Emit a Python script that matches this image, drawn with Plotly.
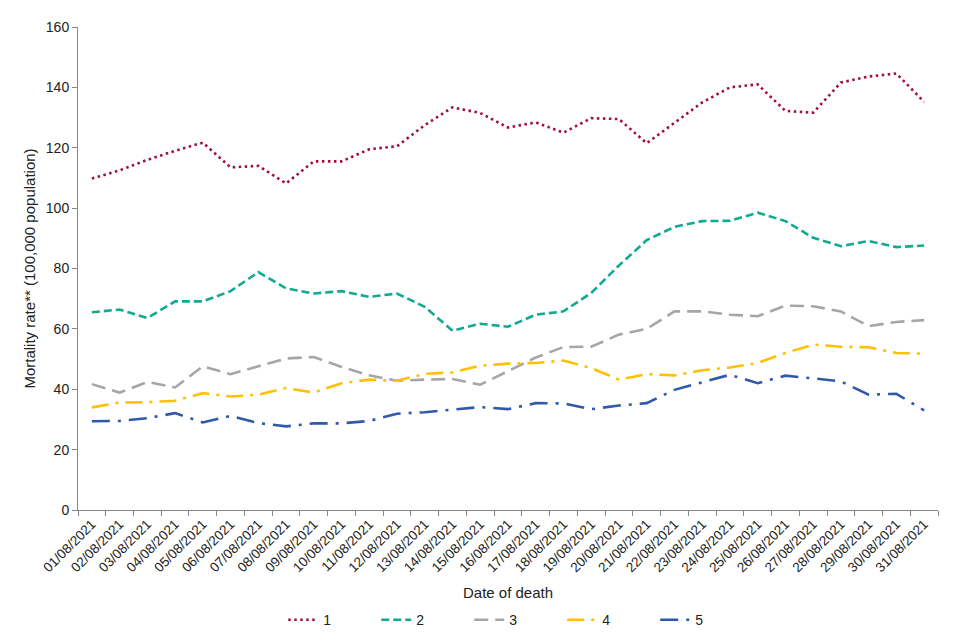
import plotly.graph_objects as go

# Daily mortality rate by group, August 2021
dates = [f"{d:02d}/08/2021" for d in range(1, 32)]

group_1 = [109.8, 112.5, 116.0, 119.0, 121.7, 113.5, 114.0, 108.2, 115.5, 115.5,
           119.5, 120.5, 127.5, 133.4, 131.5, 126.7, 128.4, 125.0, 129.8, 129.5,
           121.5, 128.4, 135.0, 140.0, 141.0, 132.2, 131.6, 141.6, 143.6, 144.6, 135.2]
group_2 = [65.5, 66.4, 63.6, 69.1, 69.1, 72.5, 78.8, 73.4, 71.7, 72.5,
           70.6, 71.7, 67.3, 59.4, 61.7, 60.7, 64.7, 65.8, 71.9, 81.0,
           89.4, 93.8, 95.7, 95.8, 98.5, 95.7, 90.2, 87.4, 89.1, 87.1, 87.6]
group_3 = [41.7, 38.9, 42.4, 40.6, 47.6, 45.0, 47.6, 50.2, 50.7, 47.4,
           44.6, 42.8, 43.2, 43.4, 41.5, 46.0, 50.5, 54.0, 54.1, 58.1,
           60.0, 65.8, 65.8, 64.7, 64.2, 67.7, 67.5, 65.8, 60.9, 62.3, 62.9]
group_4 = [34.0, 35.6, 35.7, 36.2, 38.7, 37.6, 38.2, 40.4, 38.9, 42.0,
           43.2, 42.8, 45.1, 45.6, 47.8, 48.5, 48.7, 49.5, 47.0, 43.2,
           45.0, 44.6, 46.3, 47.2, 48.7, 52.0, 54.8, 54.1, 53.9, 52.0, 51.8]
group_5 = [29.4, 29.5, 30.4, 32.1, 29.0, 31.2, 28.8, 27.7, 28.7, 28.7,
           29.5, 31.9, 32.4, 33.2, 34.1, 33.4, 35.4, 35.3, 33.4, 34.6,
           35.4, 39.8, 42.3, 44.8, 42.0, 44.5, 43.6, 42.6, 38.2, 38.5, 33.0]

series = [
    ("1", group_1, "#9E1038", "2.5px,3.5px"),
    ("2", group_2, "#11A991", "8px,4px"),
    ("3", group_3, "#A6A6A6", "14px,7px"),
    ("4", group_4, "#FFC000", "17px,7px,3px,7px"),
    ("5", group_5, "#3058AC", "18px,8px,3px,8px"),
]

font_family = "Liberation Sans, Arial, sans-serif"

fig = go.Figure()
for name, values, colour, dash in series:
    fig.add_trace(go.Scatter(
        x=dates, y=values, name=name, mode="lines",
        line=dict(color=colour, width=2.6, dash=dash),
    ))

# the page body adds an 8px offset, so margins are trimmed to match
fig.update_layout(
    width=960, height=640,
    margin=dict(l=70, r=30, t=19, b=138),
    paper_bgcolor="white", plot_bgcolor="white",
    font=dict(family=font_family, size=13.5, color="#222"),
    showlegend=True,
    legend=dict(orientation="h", x=0.509, xanchor="center", y=-0.228, yanchor="middle",
                font=dict(size=14), entrywidth=48, itemwidth=30),
)
fig.update_xaxes(
    type="category", range=[-0.5, 30.5], tickangle=-45,
    tickson="boundaries", ticks="outside", ticklen=5, tickcolor="#888",
    showline=True, linecolor="#888", linewidth=1, showgrid=False,
    automargin=False, tickfont=dict(size=13.5),
    title=dict(text="Date of death", font=dict(size=15), standoff=13),
)
fig.update_yaxes(
    range=[0, 160], dtick=20, ticks="outside", ticklen=5, tickcolor="#888",
    showline=True, linecolor="#888", linewidth=1, showgrid=False, zeroline=False,
    automargin=False, tickfont=dict(size=14),
    title=dict(text="Mortality rate** (100,000 population)", font=dict(size=15), standoff=6),
)

fig.write_html("out.html")
